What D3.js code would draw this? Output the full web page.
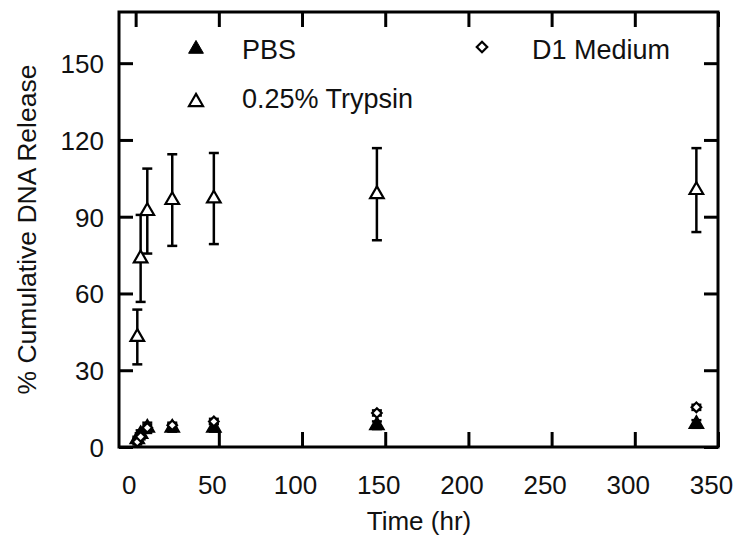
<!DOCTYPE html>
<html><head><meta charset="utf-8">
<script src="https://cdn.jsdelivr.net/npm/d3@7"></script>
<style>
body{margin:0;background:#fff;}
svg{display:block;font-family:"Liberation Sans",Arial,sans-serif;}
</style></head>
<body>
<svg id="chart" width="750" height="545"></svg>
<script>
const times = [1, 3, 7, 22, 47, 145, 337];
const trypsin = [43, 73.7, 92.2, 96.5, 97.1, 98.8, 100.4];
const trypsinErr = [10.7, 17, 16.6, 17.9, 17.8, 18, 16.4];
const pbs = [3, 5, 7.5, 7.5, 7.5, 8.5, 9];
const pbsErr = [1, 1.5, 2, 1.5, 1.5, 1.5, 1.5];
const d1 = [2, 4, 7.5, 8.5, 10, 13.3, 15.5];
const d1Err = [1, 1, 1, 1, 1, 1, 1];
const xTicks = [0, 50, 100, 150, 200, 250, 300, 350];
const yTicks = [0, 30, 60, 90, 120, 150];
const seriesNames = ["PBS", "0.25% Trypsin", "D1 Medium"];

(function () {
const svg = d3.select("#chart");
const L = 119, R = 718, T = 12, B = 447;
const x = d3.scaleLinear().domain([-10, 350]).range([L, R]);
const y = d3.scaleLinear().domain([0, 170]).range([B, T]);

// axes
const ax = svg.append("g");
const axB = ax.append("g").attr("transform", `translate(0,${B})`)
  .call(d3.axisBottom(x).tickValues(xTicks).tickSizeInner(-15).tickSizeOuter(0).tickPadding(28));
const axT = ax.append("g").attr("transform", `translate(0,${T})`)
  .call(d3.axisTop(x).tickValues(xTicks).tickSizeInner(-15).tickSizeOuter(0).tickFormat(""));
const axL = ax.append("g").attr("transform", `translate(${L},0)`)
  .call(d3.axisLeft(y).tickValues(yTicks).tickSizeInner(-14).tickSizeOuter(0).tickPadding(15));
const axR = ax.append("g").attr("transform", `translate(${R},0)`)
  .call(d3.axisRight(y).tickValues(yTicks).tickSizeInner(-14).tickSizeOuter(0).tickFormat(""));
[axB, axT, axL, axR].forEach(g => {
  g.attr("font-size", 26).attr("font-family", "Liberation Sans, Arial, sans-serif");
  g.select(".domain").remove();
  g.selectAll(".tick line").attr("stroke", "#000").attr("stroke-width", 3);
  g.selectAll(".tick text").attr("fill", "#111").attr("font-size", 26);
});
axB.selectAll(".tick text").attr("dx", -7).attr("dy", 0).attr("y", 47);
axL.selectAll(".tick text").attr("dy", "0.36em");

svg.append("rect").attr("x", L).attr("y", T).attr("width", R - L).attr("height", B - T)
  .attr("fill", "none").attr("stroke", "#000").attr("stroke-width", 3);

// titles
svg.append("text").attr("x", 419).attr("y", 530).attr("text-anchor", "middle")
  .attr("font-size", 26).attr("fill", "#111").text("Time (hr)");
svg.append("text").attr("transform", `translate(36,${(T + B) / 2}) rotate(-90)`)
  .attr("text-anchor", "middle").attr("font-size", 26.5).attr("fill", "#111")
  .text("% Cumulative DNA Release");

// data
const plot = svg.append("g");
function series(vals, errs, symType, size, fill, sw) {
  const data = times.map((t, i) => ({t, v: vals[i], e: errs[i]}));
  const g = plot.append("g");
  const eb = g.selectAll("g.eb").data(data).join("g").attr("stroke", "#000").attr("stroke-width", 2.5);
  eb.append("line").attr("x1", d => x(d.t)).attr("x2", d => x(d.t))
    .attr("y1", d => y(d.v - d.e)).attr("y2", d => y(d.v + d.e));
  eb.append("line").attr("x1", d => x(d.t) - 5).attr("x2", d => x(d.t) + 5)
    .attr("y1", d => y(d.v + d.e)).attr("y2", d => y(d.v + d.e));
  eb.append("line").attr("x1", d => x(d.t) - 5).attr("x2", d => x(d.t) + 5)
    .attr("y1", d => y(d.v - d.e)).attr("y2", d => y(d.v - d.e));
  g.selectAll("path.m").data(data).join("path")
    .attr("transform", d => `translate(${x(d.t)},${y(d.v)})`)
    .attr("d", d3.symbol().type(symType).size(size))
    .attr("fill", fill).attr("stroke", "#000").attr("stroke-width", sw);
}
series(trypsin, trypsinErr, d3.symbolTriangle, 80, "#fff", 2.2);
series(pbs, pbsErr, d3.symbolTriangle, 90, "#000", 1.5);
series(d1, d1Err, d3.symbolDiamond2, 58, "#fff", 2.2);

// legend
const leg = svg.append("g").attr("font-size", 27).attr("fill", "#111");
const legItems = [
  {name: seriesNames[0], sx: 196, sy: 49, tx: 242, ty: 59, type: d3.symbolTriangle, size: 95, fill: "#000", sw: 1},
  {name: seriesNames[1], sx: 196, sy: 102, tx: 242, ty: 108, type: d3.symbolTriangle, size: 85, fill: "#fff", sw: 2.2},
  {name: seriesNames[2], sx: 482, sy: 47, tx: 532, ty: 59, type: d3.symbolDiamond2, size: 70, fill: "#fff", sw: 2.2}
];
legItems.forEach(it => {
  leg.append("path").attr("transform", `translate(${it.sx},${it.sy})`)
    .attr("d", d3.symbol().type(it.type).size(it.size))
    .attr("fill", it.fill).attr("stroke", "#000").attr("stroke-width", it.sw);
  leg.append("text").attr("x", it.tx).attr("y", it.ty).text(it.name);
});
})();
</script>
</body></html>
